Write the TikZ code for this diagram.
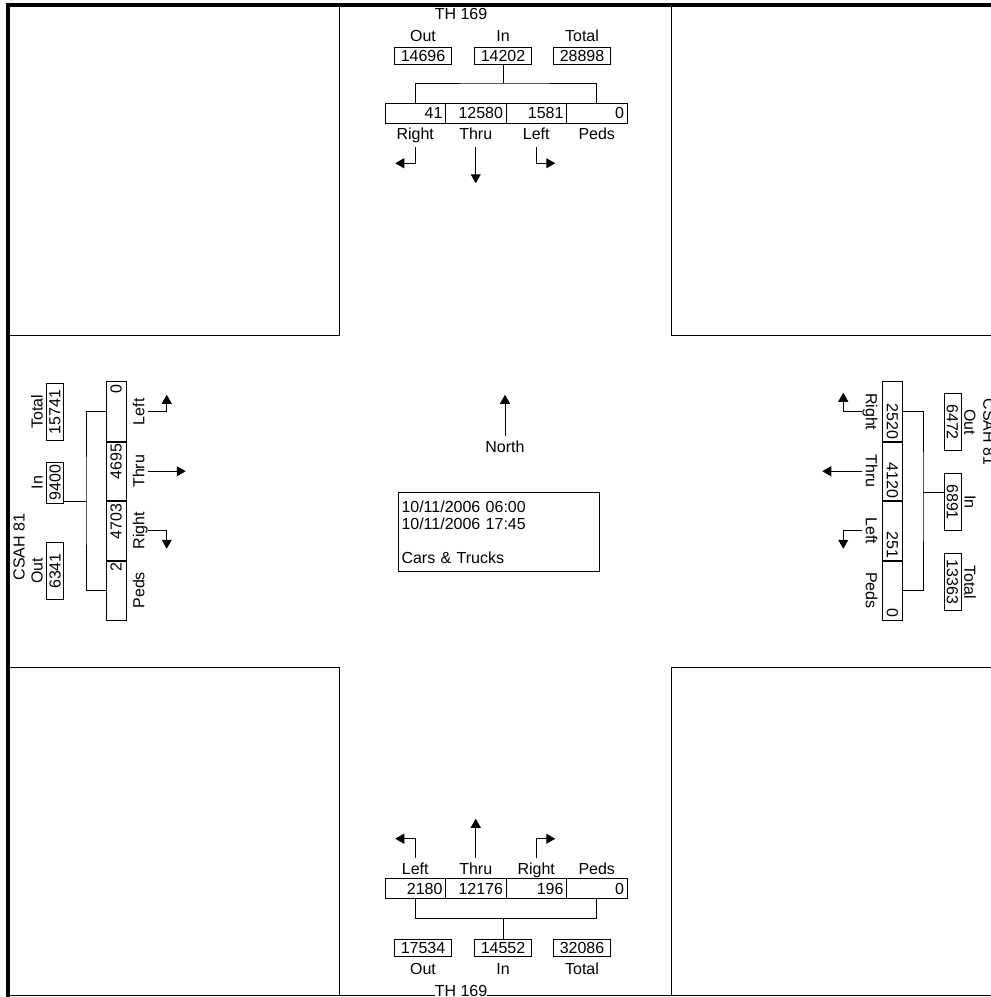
\documentclass[tikz,border=0pt]{standalone}
\usepackage{fontspec}
\setmainfont{Liberation Sans}
\usetikzlibrary{arrows.meta}
\begin{document}
\begin{tikzpicture}[x=1pt,y=-1pt,line width=1pt,
  every node/.append style={inner sep=0pt,font=\fontsize{16}{17}\selectfont},
  cell/.style={draw,minimum height=20pt,text width=54.5pt,align=right,inner xsep=3pt},
  box/.style={draw,minimum width=57pt,minimum height=17pt},
  lbl/.style={text height=11.5pt,text depth=3pt},
  arr/.style={-{Triangle[width=10pt,length=9pt]}},
  info/.style={draw,anchor=north west,minimum width=201pt,minimum height=79pt,text width=195pt,align=left,inner xsep=3pt}]
\useasboundingbox (0,0) rectangle (991,997);
\draw (9,335) -- (339,335) -- (339,6);
\draw (671,6) -- (671,335) -- (991,335);
\draw (9,667) -- (339,667) -- (339,996);
\draw (671,996) -- (671,667) -- (991,667);
\draw (8,995) -- (991,995);
\draw [line width=4pt] (8,997) -- (8,5) -- (991,5);
\node (nName) at (461,14) {TH 169};
\node (nOutL) at (423,36) {Out};
\node (nInL) at (503,36) {In};
\node (nTotL) at (582,36) {Total};
\node [box] (nOut) at (423,56) {14696};
\node [box] (nIn) at (503,56) {14202};
\node [box] (nTot) at (582,56) {28898};
\node [cell] (nR) at (415.25,113) {41};
\node [cell] (nT) at (475.75,113) {12580};
\node [cell] (nL) at (536.25,113) {1581};
\node [cell] (nP) at (596.75,113) {0};
\node [lbl,outer ysep=5pt] (nRl) at (415.25,135) {Right};
\node [lbl,outer ysep=5pt] (nTl) at (475.75,135) {Thru};
\node [lbl,outer ysep=5pt] (nLl) at (536.25,135) {Left};
\node [lbl,outer ysep=5pt] (nPl) at (596.75,135) {Peds};
\coordinate (nJ) at (503,83);
\draw (nIn.south) -- (nJ);
\draw (nR.north) |- (nJ) -| (nP.north);
\draw [arr] (nRl.south) |- ++(-20,16);
\draw [arr] (nTl.south) -- ++(0,36);
\draw [arr] (nLl.south) |- ++(19,16);
\node [cell] (sL) at (415.25,888.5) {2180};
\node [cell] (sT) at (475.75,888.5) {12176};
\node [cell] (sR) at (536.25,888.5) {196};
\node [cell] (sP) at (596.75,888.5) {0};
\node [lbl,outer ysep=5pt] (sLl) at (415.25,870) {Left};
\node [lbl,outer ysep=5pt] (sTl) at (475.75,870) {Thru};
\node [lbl,outer ysep=5pt] (sRl) at (536.25,870) {Right};
\node [lbl,outer ysep=5pt] (sPl) at (596.75,870) {Peds};
\draw [arr] (sLl.north) |- ++(-20,-19);
\draw [arr] (sTl.north) -- ++(0,-39);
\draw [arr] (sRl.north) |- ++(19,-19);
\node [box] (sOut) at (423,948) {17534};
\node [box] (sIn) at (503,948) {14552};
\node [box] (sTot) at (582,948) {32086};
\node (sOutL) at (423,969) {Out};
\node (sInL) at (503,969) {In};
\node (sTotL) at (582,969) {Total};
\node [fill=white] (sName) at (461,991) {TH 169};
\coordinate (sJ) at (503,918);
\draw (sL.south) |- (sJ) -| (sP.south);
\draw (sJ) -- (sIn.north);
\node [cell,rotate=90] (wL) at (116,411.75) {0};
\node [cell,rotate=90] (wT) at (116,471.25) {4695};
\node [cell,rotate=90] (wR) at (116,530.75) {4703};
\node [cell,rotate=90] (wP) at (116,590.25) {2};
\node [lbl,rotate=90] (wLl) at (140,411.75) {Left};
\node [lbl,rotate=90] (wTl) at (140,471.25) {Thru};
\node [lbl,rotate=90] (wRl) at (140,530.75) {Right};
\node [lbl,rotate=90] (wPl) at (140,590.25) {Peds};
\draw [arr] (wLl.south) -| ++(19,-17);
\draw [arr] (wTl.south) -- ++(38,0);
\draw [arr] (wRl.south) -| ++(19,18);
\node [box,rotate=90] (wTot) at (55,412) {15741};
\node [box,rotate=90,minimum width=41pt] (wIn) at (55,482.5) {9400};
\node [box,rotate=90] (wOut) at (55,571) {6341};
\node [rotate=90] (wTotL) at (37,412) {Total};
\node [rotate=90] (wInL) at (37,482.5) {In};
\node [rotate=90] (wOutL) at (37,571) {Out};
\node [rotate=90] (wName) at (19,547) {CSAH 81};
\coordinate (wJ) at (86,501);
\draw (wL.north) -| (wJ) |- (wP.north);
\draw (wJ) -- (wJ -| wIn.south);
\node [cell,rotate=-90] (eR) at (892.5,411.75) {2520};
\node [cell,rotate=-90] (eT) at (892.5,471.25) {4120};
\node [cell,rotate=-90] (eL) at (892.5,530.75) {251};
\node [cell,rotate=-90] (eP) at (892.5,590.25) {0};
\node [lbl,rotate=-90] (eRl) at (870,411.75) {Right};
\node [lbl,rotate=-90] (eTl) at (870,471.25) {Thru};
\node [lbl,rotate=-90] (eLl) at (870,530.75) {Left};
\node [lbl,rotate=-90] (ePl) at (870,590.25) {Peds};
\draw [arr] (eRl.south) -| ++(-19,-19);
\draw [arr] (eTl.south) -- ++(-40,0);
\draw [arr] (eLl.south) -| ++(-19,18);
\node [box,rotate=-90] (eOut) at (952.5,422) {6472};
\node [box,rotate=-90] (eIn) at (952.5,502) {6891};
\node [box,rotate=-90] (eTot) at (952.5,582) {13363};
\node [rotate=-90] (eOutL) at (970,422) {Out};
\node [rotate=-90] (eInL) at (970,502) {In};
\node [rotate=-90] (eTotL) at (970,582) {Total};
\node [rotate=-90] (eName) at (989,432) {CSAH 81};
\coordinate (eJ) at (923,492);
\draw (eR.north) -| (eJ) |- (eP.north);
\draw (eJ) -- (eJ -| eIn.south);
\node [lbl,outer ysep=5pt] (north) at (505,448) {North};
\draw [arr] (north.north) -- ++(0,-41);
\node [info] (period) at (398,492) {10/11/2006 06:00\\10/11/2006 17:45\\~\\Cars \& Trucks};
\end{tikzpicture}
\end{document}
